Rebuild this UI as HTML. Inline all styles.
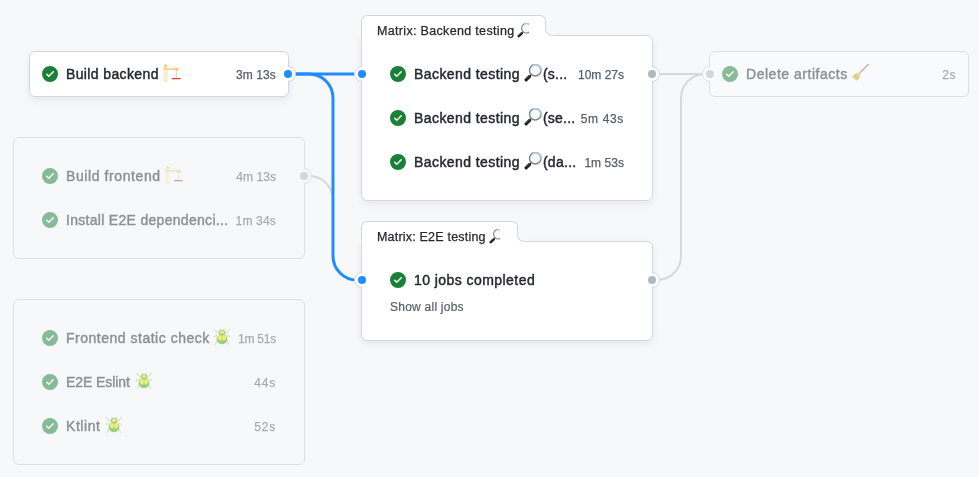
<!DOCTYPE html>
<html>
<head>
<meta charset="utf-8">
<title>Workflow graph</title>
<style>
html,body{margin:0;padding:0;}
body{will-change:transform;width:979px;height:477px;overflow:hidden;background:#f6f8fa;font-family:"Liberation Sans",sans-serif;position:relative;color:#24292f;}
.abs{position:absolute;}
.card{position:absolute;box-sizing:border-box;background:#fff;border:1px solid #d0d7de;border-radius:6px;box-shadow:0 3px 6px rgba(140,149,159,0.15);}
.group{position:absolute;box-sizing:border-box;border:1px solid #d9dfe6;border-radius:6px;background:#f6f8fa;}
.faded .row{opacity:.5;}
.row{position:absolute;height:44px;left:0;right:0;}
.ic{position:absolute;width:16px;height:16px;top:14px;}
.t{position:absolute;top:0;height:44px;line-height:45px;font-size:14px;white-space:nowrap;color:#24292f;-webkit-text-stroke:0.45px #24292f;letter-spacing:0.25px;}
.tm{position:absolute;top:0;height:44px;line-height:46.6px;font-size:12px;white-space:nowrap;color:#57606a;text-align:right;-webkit-text-stroke:0.25px #57606a;}
.em{position:absolute;width:18px;height:18px;}
.ring{position:absolute;width:16px;height:16px;box-sizing:border-box;border-radius:50%;background:#fff;border:1px solid #d0d7de;}
.rf{position:absolute;width:14px;height:14px;border-radius:50%;background:#fff;transform:scale(.955);}
.dot{position:absolute;width:8px;height:8px;border-radius:50%;}
.tab{position:absolute;box-sizing:border-box;background:#fff;border:1px solid #d0d7de;border-bottom:none;border-radius:6px 6px 0 0;height:21px;}
.fill{position:absolute;width:7px;height:7px;background:#fff;}
.corner{position:absolute;box-sizing:border-box;width:10px;height:15px;background:#f6f8fa;border-left:1px solid #d0d7de;border-bottom:1px solid #d0d7de;border-bottom-left-radius:7px;}
.tabt{position:absolute;left:15px;top:0;height:24px;line-height:31.6px;font-size:12.5px;white-space:nowrap;color:#24292f;overflow:hidden;-webkit-text-stroke:0.25px #24292f;}
</style>
</head>
<body>

<!-- connectors -->
<svg class="abs" style="left:0;top:0" width="979" height="477" viewBox="0 0 979 477" fill="none">
  <g stroke="#d0d7de" stroke-width="2" opacity=".95">
    <path d="M304 176 H309 A24 24 0 0 1 333 200 V256"/>
    <path d="M652 74 H710"/>
    <path d="M652 280 H657 A24 24 0 0 0 681 256 V98 A24 24 0 0 1 705 74 H710"/>
  </g>
  <g stroke="#218bff" stroke-width="3">
    <path d="M288 74 H362"/>
    <path d="M288 74 H309 A24 24 0 0 1 333 98 V256 A24 24 0 0 0 357 280 H362"/>
  </g>
</svg>

<!-- rings (behind cards) -->
<div class="ring" style="left:280px;top:66px"></div>
<div class="ring" style="left:296px;top:168px;background:#f6f8fa;border-color:#d9dfe6"></div>
<div class="ring" style="left:354px;top:66px"></div>
<div class="ring" style="left:354px;top:272px"></div>
<div class="ring" style="left:644px;top:66px"></div>
<div class="ring" style="left:644px;top:272px"></div>
<div class="ring" style="left:702px;top:66px;background:#f6f8fa;border-color:#d9dfe6"></div>

<!-- Build backend -->
<div class="card" id="c1" style="left:29px;top:51px;width:260px;height:46px;">
  <div class="row" style="top:0">
    <svg class="ic" style="left:12px" viewBox="0 0 16 16"><use href="#chk"/></svg>
    <div class="t" id="t1" style="letter-spacing:0.374px;left:36px">Build backend</div>
    <svg class="em" style="left:133px;top:12px" viewBox="0 0 18 18"><use href="#crane"/></svg>
    <div class="tm" id="m1" style="letter-spacing:0.12px;right:12px">3m 13s</div>
  </div>
</div>

<!-- Group 1 -->
<div class="group faded" id="g1" style="left:13px;top:137px;width:292px;height:122px;">
  <div class="row" style="top:16px">
    <svg class="ic" style="left:28px" viewBox="0 0 16 16"><use href="#chk"/></svg>
    <div class="t" id="t2" style="letter-spacing:0.592px;left:52px">Build frontend</div>
    <svg class="em" style="left:150.5px;top:12px" viewBox="0 0 18 18"><use href="#crane"/></svg>
    <div class="tm" id="m2" style="letter-spacing:0.08px;right:28px">4m 13s</div>
  </div>
  <div class="row" style="top:60px">
    <svg class="ic" style="left:28px" viewBox="0 0 16 16"><use href="#chk"/></svg>
    <div class="t" id="t3" style="letter-spacing:0.301px;left:52px">Install E2E dependenci...</div>
    <div class="tm" id="m3" style="letter-spacing:0.18px;right:28px">1m 34s</div>
  </div>
</div>

<!-- Group 2 -->
<div class="group faded" id="g2" style="left:13px;top:299px;width:292px;height:166px;">
  <div class="row" style="top:16px">
    <svg class="ic" style="left:28px" viewBox="0 0 16 16"><use href="#chk"/></svg>
    <div class="t" id="t4" style="letter-spacing:0.51px;left:52px">Frontend static check</div>
    <svg class="em" style="left:199px;top:12px" viewBox="0 0 18 18"><use href="#bug"/></svg>
    <div class="tm" id="m4" style="letter-spacing:-0.22px;right:28px">1m 51s</div>
  </div>
  <div class="row" style="top:60px">
    <svg class="ic" style="left:28px" viewBox="0 0 16 16"><use href="#chk"/></svg>
    <div class="t" id="t5" style="letter-spacing:-0.087px;left:52px">E2E Eslint</div>
    <svg class="em" style="left:121px;top:12px" viewBox="0 0 18 18"><use href="#bug"/></svg>
    <div class="tm" id="m5" style="letter-spacing:0.8px;right:28px">44s</div>
  </div>
  <div class="row" style="top:104px">
    <svg class="ic" style="left:28px" viewBox="0 0 16 16"><use href="#chk"/></svg>
    <div class="t" id="t6" style="letter-spacing:0.55px;left:52px">Ktlint</div>
    <svg class="em" style="left:91px;top:12px" viewBox="0 0 18 18"><use href="#bug"/></svg>
    <div class="tm" id="m6" style="letter-spacing:0.8px;right:28px">52s</div>
  </div>
</div>

<!-- Matrix: Backend testing -->
<div class="card" id="mb" style="left:361px;top:35px;width:292px;height:166px;border-top-left-radius:0">
  <div class="row" style="top:16px">
    <svg class="ic" style="left:28px" viewBox="0 0 16 16"><use href="#chk"/></svg>
    <div class="t" id="t7" style="letter-spacing:0.429px;left:52px">Backend testing</div>
    <svg class="em" style="left:162px;top:12px" viewBox="0 0 18 18"><use href="#mag"/></svg>
    <div class="t" id="t7b" style="margin-left:0.9px;letter-spacing:0.23px;left:180px">(s...</div>
    <div class="tm" id="m7" style="letter-spacing:-0.0px;right:28px">10m 27s</div>
  </div>
  <div class="row" style="top:60px">
    <svg class="ic" style="left:28px" viewBox="0 0 16 16"><use href="#chk"/></svg>
    <div class="t" id="t8" style="letter-spacing:0.429px;left:52px">Backend testing</div>
    <svg class="em" style="left:162px;top:12px" viewBox="0 0 18 18"><use href="#mag"/></svg>
    <div class="t" id="t8b" style="margin-left:0.9px;letter-spacing:0.25px;left:180px">(se...</div>
    <div class="tm" id="m8" style="letter-spacing:0.66px;right:28px">5m 43s</div>
  </div>
  <div class="row" style="top:104px">
    <svg class="ic" style="left:28px" viewBox="0 0 16 16"><use href="#chk"/></svg>
    <div class="t" id="t9" style="letter-spacing:0.429px;left:52px">Backend testing</div>
    <svg class="em" style="left:162px;top:12px" viewBox="0 0 18 18"><use href="#mag"/></svg>
    <div class="t" id="t9b" style="margin-left:0.9px;letter-spacing:0.29px;left:180px">(da...</div>
    <div class="tm" id="m9" style="letter-spacing:0.04px;right:28px">1m 53s</div>
  </div>
</div>
<div class="tab" id="tab1" style="left:361px;top:15px;width:185px;">
  <div class="tabt" id="tt1" style="letter-spacing:0.327px;width:152px">Matrix: Backend testing
    <svg class="em" style="left:140px;top:6.8px;width:15px;height:15px" viewBox="0 0 18 18"><use href="#mag"/></svg>
  </div>
</div>
<div class="fill" style="left:545px;top:29px"></div><div class="corner" style="left:545px;top:21px"></div>

<!-- Matrix: E2E testing -->
<div class="card" id="me" style="left:361px;top:241px;width:292px;height:100px;border-top-left-radius:0">
  <div class="row" style="top:16px">
    <svg class="ic" style="left:28px" viewBox="0 0 16 16"><use href="#chk"/></svg>
    <div class="t" id="t10" style="letter-spacing:0.44px;left:52px">10 jobs completed</div>
  </div>
  <div class="abs" id="sa" style="letter-spacing:0.241px;left:28px;top:57px;font-size:12px;line-height:16px;color:#57606a;white-space:nowrap;-webkit-text-stroke:0.2px #57606a">Show all jobs</div>
</div>
<div class="tab" id="tab2" style="left:361px;top:221px;width:157px;">
  <div class="tabt" id="tt2" style="letter-spacing:0.201px;width:123px">Matrix: E2E testing
    <svg class="em" style="left:112px;top:6.8px;width:15px;height:15px" viewBox="0 0 18 18"><use href="#mag"/></svg>
  </div>
</div>
<div class="fill" style="left:517px;top:235px"></div><div class="corner" style="left:517px;top:227px"></div>

<!-- Delete artifacts -->
<div class="group faded" id="c2" style="left:709px;top:51px;width:260px;height:46px;background:#f9fafb;">
  <div class="row" style="top:0">
    <svg class="ic" style="left:12px" viewBox="0 0 16 16"><use href="#chk"/></svg>
    <div class="t" id="t11" style="letter-spacing:0.524px;left:36px">Delete artifacts</div>
    <svg class="em" style="left:141px;top:12px" viewBox="0 0 18 18"><use href="#broom"/></svg>
    <div class="tm" id="m11" style="letter-spacing:0.6px;right:12px">2s</div>
  </div>
</div>

<!-- ring fills (above cards) -->
<div class="rf" style="left:281px;top:67px"></div>
<div class="rf" style="left:355px;top:67px"></div>
<div class="rf" style="left:355px;top:273px"></div>
<div class="rf" style="left:297px;top:169px;background:#f6f8fa"></div>
<div class="rf" style="left:645px;top:67px"></div>
<div class="rf" style="left:645px;top:273px"></div>
<div class="rf" style="left:703px;top:67px;background:#fbfcfd"></div>

<!-- dots (above cards) -->
<div class="dot" style="left:284px;top:70px;background:#218bff"></div>
<div class="dot" style="left:358px;top:70px;background:#218bff"></div>
<div class="dot" style="left:358px;top:276px;background:#218bff"></div>
<div class="dot" style="left:300px;top:172px;background:#d0d7de"></div>
<div class="dot" style="left:648px;top:70px;background:#afb8c1"></div>
<div class="dot" style="left:648px;top:276px;background:#afb8c1"></div>
<div class="dot" style="left:706px;top:70px;background:#d0d7de"></div>

<!-- symbol defs -->
<svg width="0" height="0" style="position:absolute">
  <defs>
    <symbol id="chk" viewBox="0 0 16 16">
      <path fill="#1a7f37" d="M8 16A8 8 0 1 1 8 0a8 8 0 0 1 0 16Zm3.78-9.72a.751.751 0 0 0-.018-1.042.751.751 0 0 0-1.042-.018L6.75 9.19 5.28 7.72a.751.751 0 0 0-1.042.018.751.751 0 0 0-.018 1.042l2 2a.75.75 0 0 0 1.06 0Z"/>
    </symbol>
    <symbol id="crane" viewBox="0 0 18 18">
      <path d="M2.6 1.2 L16 4.4" stroke="#d9dde2" stroke-width=".5"/>
      <rect x="0.7" y="2" width="3.9" height="15.7" fill="#f4dfa8"/>
      <path d="M0.7 7.4H4.6M0.7 9.4H4.6M0.7 11.4H4.6M0.7 13.4H4.6M0.7 15.4H4.6" stroke="#fffaf0" stroke-width=".7" opacity=".8"/>
      <path d="M1.9 6 V17.7 M3.4 6 V17.7" stroke="#fffaf0" stroke-width=".5"/>
      <rect x="0" y="4.1" width="16.2" height="1.8" rx=".4" fill="#f2da98"/>
      <rect x="1.6" y="0.4" width="2" height="1.8" rx=".5" fill="#dcb14c"/>
      <rect x="12.5" y="4.7" width="2" height="2" rx=".4" fill="#e6b84e"/>
      <rect x="13.15" y="6.8" width=".7" height="7.2" fill="#cfd6de"/>
      <rect x="12.9" y="10" width="1.2" height="1.6" rx=".4" fill="#ecd07a"/>
      <rect x="8.9" y="13.9" width="8.7" height="1.25" rx=".3" fill="#c9432b"/>
    </symbol>
    <symbol id="bug" viewBox="0 0 18 18">
      <defs>
        <radialGradient id="bgl" cx=".5" cy=".5" r=".5">
          <stop offset="0" stop-color="#fbf600"/><stop offset=".55" stop-color="#f0ee00" stop-opacity=".85"/><stop offset="1" stop-color="#d8e000" stop-opacity="0"/>
        </radialGradient>
      </defs>
      <g stroke="#7cbc34" stroke-width=".75" stroke-linecap="round" fill="none">
        <path d="M5.1 4.9 L1.2 1.5"/><path d="M13 4.9 L16.7 1.3"/>
        <path d="M4 7.5 L1.2 8.4"/><path d="M13.9 7.5 L16.7 8.4"/>
        <path d="M4.2 11.8 L2.4 16.5"/><path d="M13.7 11.8 L15.5 16.5"/>
        <path d="M7.3 2.2 L6.9 1"/><path d="M10.7 2.2 L11.1 1"/>
      </g>
      <ellipse cx="9.05" cy="4.6" rx="3.4" ry="2.7" fill="#3a7a26"/>
      <ellipse cx="9.05" cy="4.3" rx="2.5" ry="1.8" fill="#e6dc0c"/>
      <path d="M9 6.5 C12.4 6.5 14.3 7.6 14.3 10.6 C14.3 14 12 16.3 9 16.3 C6 16.3 3.7 14 3.7 10.6 C3.7 7.6 5.6 6.5 9 6.5Z" fill="#3aa400"/>
      <ellipse cx="7" cy="9.7" rx="3" ry="3.7" fill="url(#bgl)"/>
      <ellipse cx="11" cy="9.7" rx="3" ry="3.7" fill="url(#bgl)"/>
      <path d="M9 7.6 V15.2" stroke="#b49a10" stroke-width=".8" opacity=".7"/>
    </symbol>
    <symbol id="mag" viewBox="0 0 18 18">
      <path d="M7.4 10.4 L4.6 13" stroke="#6f767d" stroke-width="1.7"/>
      <path d="M5.6 12.4 L2.1 15.8" stroke="#1c2024" stroke-width="3.1" stroke-linecap="round"/>
      <path d="M5.9 11.3 L2.3 14.7" stroke="#5d646b" stroke-width=".7" stroke-linecap="round"/>
      <circle cx="11.25" cy="6.25" r="5.75" fill="#f7f9fb" stroke="#80868d" stroke-width="1.4"/>
      <path d="M9.3 0.85 A5.75 5.75 0 0 1 16.9 7.3" stroke="#a9c6ea" stroke-width="1.4" fill="none"/>
    </symbol>
    <symbol id="broom" viewBox="0 0 18 18">
      <path d="M8.6 9.2 L17.3 0.4" stroke="#8c4a30" stroke-width="1.2" stroke-linecap="round"/>
      <path d="M8.5 8.4 Q10 11 9.1 13.1 L5.8 16.9 L0.8 13 L4.6 9.6 Q6.6 8.6 8.5 8.4Z" fill="#d8bc40"/>
      <path d="M3.6 10.6 L8.2 14.2 M2.4 11.7 L7.1 15.4" stroke="#a47408" stroke-width=".9"/>
    </symbol>
  </defs>
</svg>
</body>
</html>
